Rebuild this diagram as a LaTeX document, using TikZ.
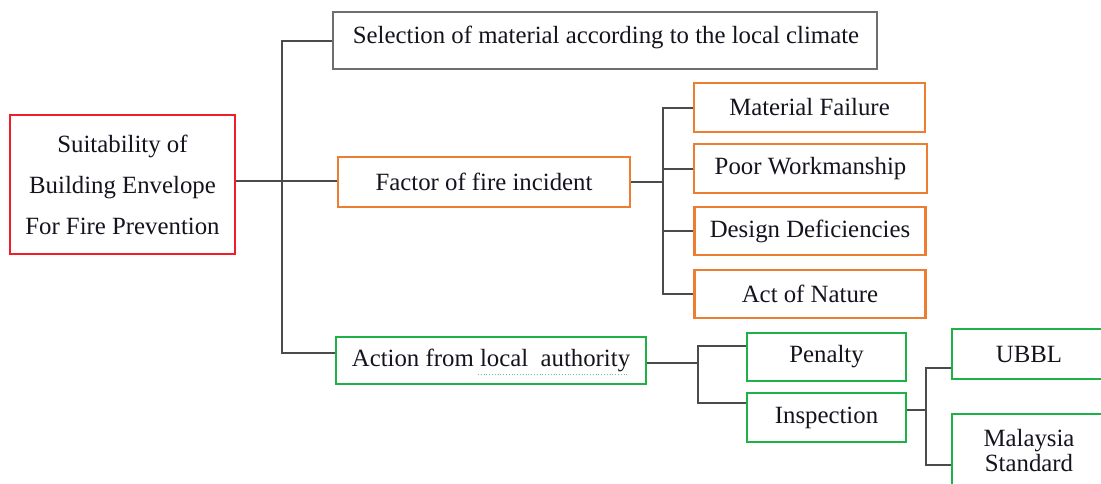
\documentclass[tikz,border=0pt]{standalone}
\usepackage{fontspec}
\setmainfont{Liberation Serif}
\definecolor{cred}{RGB}{240,30,40}
\definecolor{corange}{RGB}{237,125,49}
\definecolor{cgreen}{RGB}{30,178,70}
\definecolor{cgray}{RGB}{110,110,110}
\definecolor{cline}{RGB}{75,75,75}
\definecolor{ctext}{RGB}{20,20,30}
\begin{document}
\begin{tikzpicture}[x=1pt,y=-1pt,
  box/.style={draw, line width=2.4pt, fill=white, inner sep=0pt, align=center,
    text=ctext, font=\fontsize{24.8}{25}\selectfont},
  redbox/.style={box, draw=cred},
  orbox/.style={box, draw=corange},
  grbox/.style={box, draw=cgreen},
  grybox/.style={box, draw=cgray},
  conn/.style={draw=cline, line width=2pt}]
\useasboundingbox (0,0) rectangle (1101,483);
\clip (0,0) rectangle (1101,483);
\fill[white] (0,0) rectangle (1101,483);

\node[redbox, minimum width=225pt, minimum height=139pt,
  font=\fontsize{24.8}{41}\selectfont] (root) at (122.5,184.5)
  {Suitability of\\Building Envelope\\For Fire Prevention};
\node[grybox, minimum width=544pt, minimum height=57pt] (top) at (605,40.5) {};
\node[text=ctext, font=\fontsize{24.8}{25}\selectfont] (toptext) at (606,37) {Selection of material according to the local climate};
\node[orbox, minimum width=292pt, minimum height=50pt] (factor) at (484,182) {Factor of fire incident};
\node[orbox, minimum width=231pt, minimum height=49pt] (mat) at (809.5,107.5) {Material Failure};
\node[orbox, minimum width=233pt, minimum height=49pt] (poor) at (810.5,168.5) {Poor Workmanship};
\node[orbox, minimum width=231pt, minimum height=48pt] (design) at (810,231) {Design Deficiencies};
\node[orbox, minimum width=231pt, minimum height=48pt] (act) at (810,294) {Act of Nature};
\node[grbox, minimum width=310pt, minimum height=47pt] (action) at (491,360.5) {Action from local\ \ authority};
\draw[cgreen!70, line width=0.8pt, dotted] (478,374.5) -- (629,374.5);
\node[grbox, minimum width=159pt, minimum height=48pt] (penalty) at (826.5,357) {Penalty};
\node[grbox, minimum width=159pt, minimum height=49pt] (insp) at (826.5,417.5) {Inspection};
\node[grbox, minimum width=154pt, minimum height=50pt] (ubbl) at (1029,354) {UBBL};
\node[grbox, minimum width=154pt, minimum height=74pt] (ms) at (1029,451) {Malaysia\\Standard};

% connectors
\coordinate (b1) at (282,0);
\coordinate (b2) at (663,0);
\coordinate (b3) at (698,0);
\coordinate (b4) at (926,0);

\draw[conn] ([yshift=1.5pt]factor.west -| root.east) -- ([yshift=1.5pt]factor.west);
\draw[conn] (top.west) -- (top.west -| b1) -- ([yshift=7.5pt]action.west -| b1) -- ([yshift=7.5pt]action.west);

\draw[conn] (factor.east) -- (factor.east -| b2);
\draw[conn] (mat.west) -- (mat.west -| b2) -- (act.west -| b2) -- (act.west);
\draw[conn] (poor.west) -- (poor.west -| b2);
\draw[conn] (design.west) -- (design.west -| b2);

\draw[conn] ([yshift=-2.5pt]action.east) -- ([yshift=-2.5pt]action.east -| b3);
\draw[conn] ([yshift=11pt]penalty.west) -- ([yshift=11pt]penalty.west -| b3) -- ([yshift=14.5pt]insp.west -| b3) -- ([yshift=14.5pt]insp.west);

\draw[conn] ([yshift=7.5pt]insp.east) -- ([yshift=7.5pt]insp.east -| b4);
\draw[conn] ([yshift=-14pt]ubbl.west) -- ([yshift=-14pt]ubbl.west -| b4) -- ([yshift=-14pt]ms.west -| b4) -- ([yshift=-14pt]ms.west);
\end{tikzpicture}
\end{document}
